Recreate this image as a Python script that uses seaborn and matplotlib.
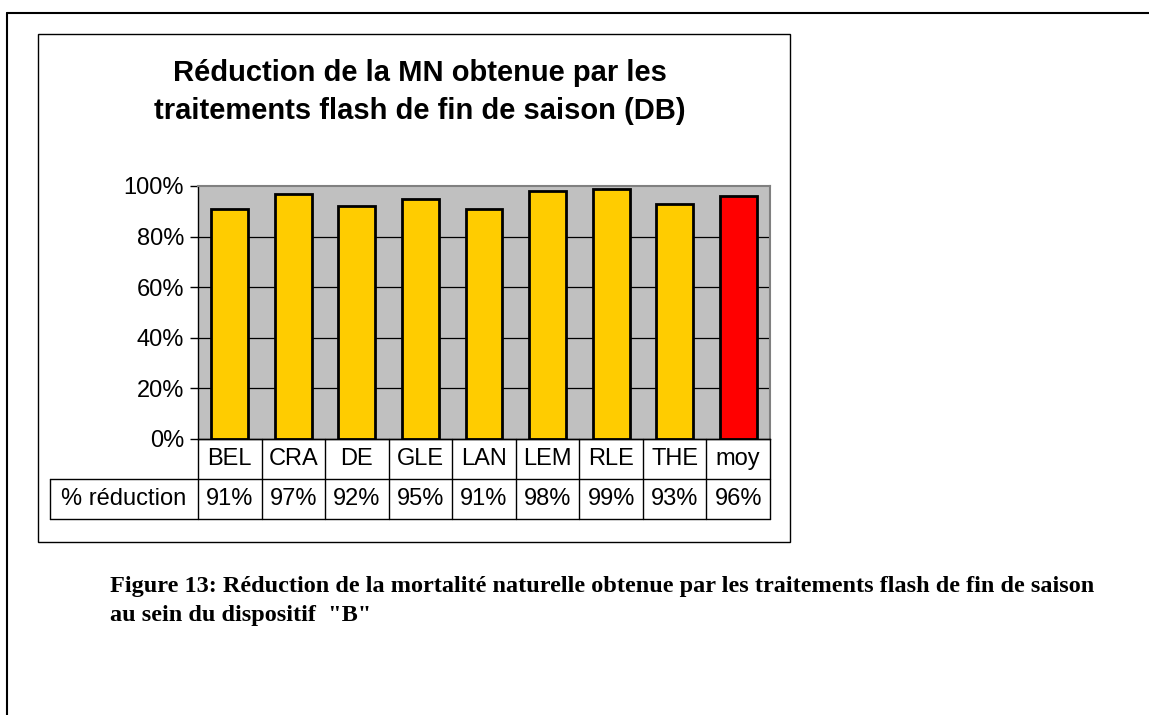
import matplotlib
matplotlib.use("Agg")
import matplotlib.pyplot as plt
import matplotlib.transforms as mtransforms
from matplotlib.lines import Line2D
from matplotlib.patches import Rectangle
import seaborn as sns
import pandas as pd

categories = ["BEL", "CRA", "DE", "GLE", "LAN", "LEM", "RLE", "THE", "moy"]
reduction = [91, 97, 92, 95, 91, 98, 99, 93, 96]
value_labels = ["91%", "97%", "92%", "95%", "91%", "98%", "99%", "93%", "96%"]
row_label = "% réduction"
yticks = [0, 20, 40, 60, 80, 100]
title = "Réduction de la MN obtenue par les\ntraitements flash de fin de saison (DB)"
caption = ("Figure 13: Réduction de la mortalité naturelle obtenue par les traitements flash de fin de saison\n"
           "au sein du dispositif  \"B\"")

sns.set_style("white")
plt.rcParams['font.family'] = ['Liberation Sans', 'DejaVu Sans']
plt.rcParams['text.color'] = 'black'
plt.rcParams['axes.labelcolor'] = 'black'
plt.rcParams['ytick.color'] = 'black'
plt.rcParams['xtick.color'] = 'black'

W, H = 1149, 715
fig = plt.figure(figsize=(W / 100, H / 100), dpi=100)

def fx(x):
    return x / W

def fy(y):
    return 1 - y / H

# plot area in pixels
L, R, T, B = 198, 770, 186, 439
ax = fig.add_axes([fx(L), fy(B), fx(R - L), (B - T) / H])

df = pd.DataFrame({"cat": categories, "val": reduction})
colors = ["#FFCC00"] * (len(categories) - 1) + ["#FF0000"]
sns.barplot(data=df, x="cat", y="val", hue="cat", palette=colors, legend=False,
            width=0.58, edgecolor="black", linewidth=2, ax=ax, zorder=3, saturation=1)

ax.set_facecolor("#C0C0C0")
ax.set_ylim(0, 100)
ax.set_xlim(-0.5, len(categories) - 0.5)
ax.set_yticks(yticks)
ax.set_yticklabels([f"{v}%" for v in yticks], fontsize=17, color="black")
ax.set_xticks([])
ax.set_xlabel("")
ax.set_ylabel("")
ax.tick_params(axis="y", direction="out", length=6, width=1, color="black", pad=4, left=True)
for v in yticks[1:-1]:
    ax.axhline(v, color="black", linewidth=0.9, zorder=1)
for s in ["top", "right"]:
    ax.spines[s].set_color("#808080")
    ax.spines[s].set_linewidth(1.5)
for s in ["left", "bottom"]:
    ax.spines[s].set_color("black")
    ax.spines[s].set_linewidth(1)

# data table below
trans = mtransforms.blended_transform_factory(ax.transData, fig.transFigure)
row1_top, row1_bot, row2_bot = B, 479, 519
TL = 50
n = len(categories)
lw = 1
fig.add_artist(Line2D([fx(L), fx(R)], [fy(row1_top)] * 2, color="black", lw=lw))
fig.add_artist(Line2D([fx(TL), fx(R)], [fy(row1_bot)] * 2, color="black", lw=lw))
fig.add_artist(Line2D([fx(TL), fx(R)], [fy(row2_bot)] * 2, color="black", lw=lw))
fig.add_artist(Line2D([fx(TL), fx(TL)], [fy(row1_bot), fy(row2_bot)], color="black", lw=lw))
for k in range(n + 1):
    xb = k - 0.5
    line = Line2D([xb, xb], [fy(row1_top), fy(row2_bot)], color="black", lw=lw,
                  transform=trans, clip_on=False)
    fig.add_artist(line)
for i, (c, v) in enumerate(zip(categories, value_labels)):
    fig.text(i, fy((row1_top + row1_bot) / 2), c, transform=trans, ha="center", va="center",
             fontsize=17, color="black")
    fig.text(i, fy((row1_bot + row2_bot) / 2), v, transform=trans, ha="center", va="center",
             fontsize=17, color="black")
fig.text(fx((TL + L) / 2), fy((row1_bot + row2_bot) / 2), row_label, ha="center", va="center",
         fontsize=17, color="black")

# title
fig.text(fx(420), fy(92), title, ha="center", va="center", fontsize=21, fontweight="bold",
         linespacing=1.45, color="black")

# chart box
fig.add_artist(Rectangle((fx(38), fy(542)), fx(790 - 38), (542 - 34) / H, fill=False,
                         edgecolor="black", lw=1, transform=fig.transFigure))
# outer frame
fig.add_artist(Line2D([fx(7), 1], [fy(13), fy(13)], color="black", lw=1.5))
fig.add_artist(Line2D([fx(7), fx(7)], [fy(13), 0], color="black", lw=1.5))

# caption
fig.text(fx(110), fy(601), caption, ha="left", va="center", fontsize=17.5, fontweight="bold",
         family=["Liberation Serif", "DejaVu Serif"], linespacing=1.45, color="black")

fig.savefig("out.png", dpi=100)
